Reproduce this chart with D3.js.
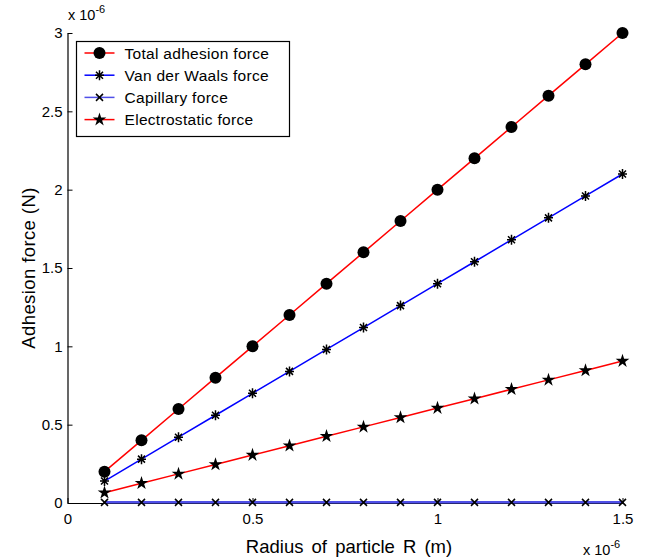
<!DOCTYPE html>
<html>
<head>
<meta charset="utf-8">
<script src="https://cdn.jsdelivr.net/npm/d3@7"></script>
<style>
  body { margin: 0; background: #fff; }
  svg { display: block; font-family: "Liberation Sans", Arial, sans-serif; }
</style>
</head>
<body>
<svg id="chart" width="648" height="560"></svg>
<script>
// radius of particle, in units of 1e-6 m
var radius = [0.1, 0.2, 0.3, 0.4, 0.5, 0.6, 0.7, 0.8, 0.9, 1.0, 1.1, 1.2, 1.3, 1.4, 1.5];

// forces, in units of 1e-6 N
var totalForce = [0.2, 0.4, 0.6, 0.8, 1.0, 1.2, 1.4, 1.6, 1.8, 2.0, 2.2, 2.4, 2.6, 2.8, 3.0];
var vdwForce = [0.14, 0.28, 0.42, 0.56, 0.70, 0.84, 0.98, 1.12, 1.26, 1.40, 1.54, 1.68, 1.82, 1.96, 2.10];
var capillaryForce = [0.004, 0.004, 0.004, 0.004, 0.004, 0.004, 0.004, 0.004, 0.004, 0.004, 0.004, 0.004, 0.004, 0.004, 0.004];
var electroForce = [0.066, 0.126, 0.186, 0.246, 0.306, 0.366, 0.426, 0.486, 0.546, 0.606, 0.666, 0.726, 0.786, 0.846, 0.906];

var xTicks = [0, 0.5, 1, 1.5];
var yTicks = [0, 0.5, 1, 1.5, 2, 2.5, 3];

var seriesNames = ["Total adhesion force", "Van der Waals force", "Capillary force", "Electrostatic force"];
var seriesData = [totalForce, vdwForce, capillaryForce, electroForce];
var seriesColors = ["#ff0000", "#0000ff", "#4f4fe8", "#ff0000"];
var seriesMarkers = ["circle", "asterisk", "cross", "star"];

var svg = d3.select("#chart");
var margin = { left: 67.5, right: 25.5, top: 33, bottom: 57 };
var width = 648 - margin.left - margin.right;
var height = 560 - margin.top - margin.bottom;

var x = d3.scaleLinear().domain([0, 1.5]).range([0, width]);
var y = d3.scaleLinear().domain([0, 3]).range([height, 0]);

var g = svg.append("g").attr("transform", "translate(" + margin.left + "," + margin.top + ")");

// axes, ticks pointing inward like matlab
var xAxis = g.append("g")
    .attr("transform", "translate(0," + height + ")")
    .call(d3.axisBottom(x).tickValues(xTicks).tickSizeInner(-5).tickSizeOuter(0).tickPadding(10).tickFormat(d3.format("")));
var yAxis = g.append("g")
    .call(d3.axisLeft(y).tickValues(yTicks).tickSizeInner(-5).tickSizeOuter(0).tickPadding(5).tickFormat(d3.format("")));

[xAxis, yAxis].forEach(function(a) {
    a.select(".domain").attr("stroke", "#000").attr("stroke-width", 1.2);
    a.selectAll(".tick line").attr("stroke", "#000");
    a.selectAll(".tick text").attr("fill", "#000").style("font-size", "15px");
});

function drawMarker(sel, type) {
    if (type == "circle") {
        sel.append("circle").attr("r", 6).attr("fill", "#000");
    } else if (type == "star") {
        sel.append("path").attr("d", d3.symbol(d3.symbolStar, 58)()).attr("fill", "#000");
    } else if (type == "cross") {
        sel.append("path").attr("d", "M-3.5,-3.5L3.5,3.5M-3.5,3.5L3.5,-3.5")
            .attr("stroke", "#000").attr("stroke-width", 1.5).attr("fill", "none");
    } else if (type == "asterisk") {
        sel.append("path").attr("d", "M-4.5,0L4.5,0M0,-5L0,5M-3.5,-3.5L3.5,3.5M-3.5,3.5L3.5,-3.5")
            .attr("stroke", "#000").attr("stroke-width", 1.5).attr("fill", "none");
    }
}

var line = d3.line()
    .x(function(d) { return x(d[0]); })
    .y(function(d) { return y(d[1]); });

// draw capillary first so it sits just over the axis
var order = [2, 3, 1, 0];
order.forEach(function(i) {
    var pts = radius.map(function(r, j) { return [r, seriesData[i][j]]; });
    g.append("path")
        .datum(pts)
        .attr("d", line)
        .attr("fill", "none")
        .attr("stroke", seriesColors[i])
        .attr("stroke-width", i == 2 ? 2.5 : 1.5);
    g.append("g").selectAll("g")
        .data(pts)
        .enter().append("g")
        .attr("transform", function(d) { return "translate(" + x(d[0]) + "," + y(d[1]) + ")"; })
        .each(function() { drawMarker(d3.select(this), seriesMarkers[i]); });
});

// exponent labels
var expTop = svg.append("text").attr("x", 68).attr("y", 20).style("font-size", "14.5px");
expTop.append("tspan").text("x 10");
expTop.append("tspan").attr("dy", -7).style("font-size", "11px").text("-6");
var expBot = svg.append("text").attr("x", 583).attr("y", 555).style("font-size", "14.5px");
expBot.append("tspan").text("x 10");
expBot.append("tspan").attr("dy", -7).style("font-size", "11px").text("-6");

// axis titles
svg.append("text")
    .attr("transform", "translate(35," + (margin.top + height / 2) + ") rotate(-90)")
    .attr("text-anchor", "middle")
    .style("font-size", "18.5px")
    .style("letter-spacing", "0.4px")
    .text("Adhesion force (N)");
svg.append("text")
    .attr("x", margin.left + width / 2 + 4)
    .attr("y", 553)
    .attr("text-anchor", "middle")
    .style("font-size", "18.5px")
    .style("word-spacing", "3px")
    .text("Radius of particle R (m)");

// legend
var legend = svg.append("g").attr("transform", "translate(76.5,41.5)");
legend.append("rect").attr("width", 213).attr("height", 95)
    .attr("fill", "#fff").attr("stroke", "#000").attr("stroke-width", 1.2);
seriesNames.forEach(function(name, i) {
    var row = legend.append("g").attr("transform", "translate(0," + (11.5 + i * 22.2) + ")");
    row.append("line").attr("x1", 8).attr("x2", 38)
        .attr("stroke", seriesColors[i]).attr("stroke-width", 1.5);
    var m = row.append("g").attr("transform", "translate(23,0)");
    drawMarker(m, seriesMarkers[i]);
    row.append("text").attr("x", 48).attr("y", 5.5)
        .style("font-size", "15.5px")
        .style("letter-spacing", "0.3px")
        .text(name);
});
</script>
</body>
</html>
